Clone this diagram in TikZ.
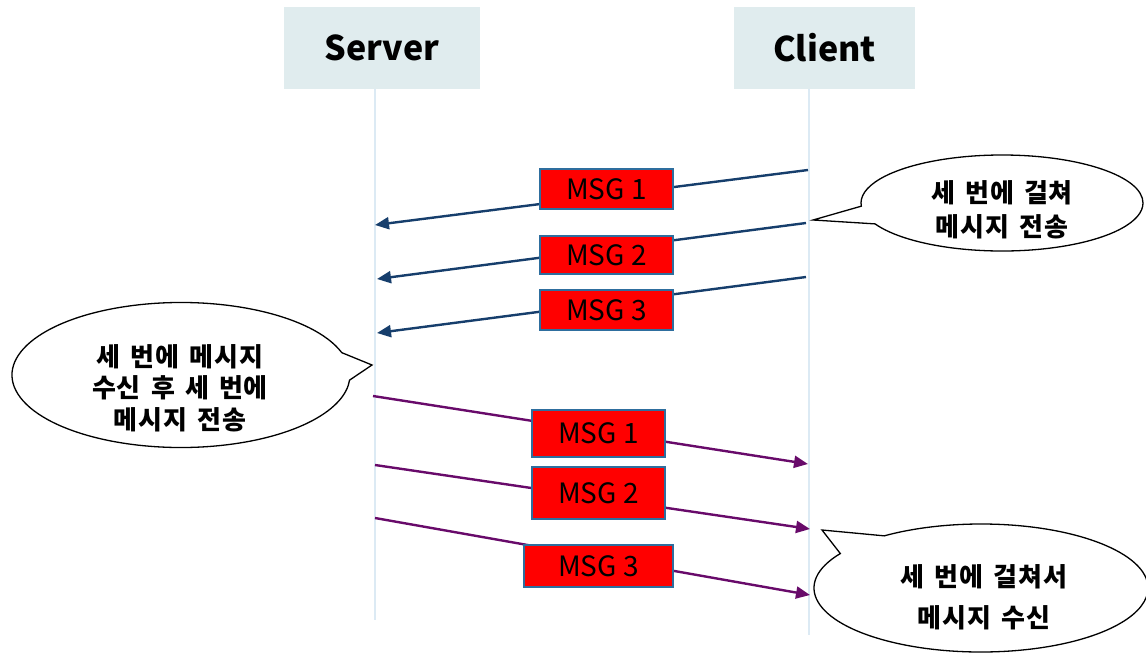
\documentclass[tikz,border=0pt]{standalone}
\usepackage{fontspec}
\setmainfont{Noto Sans CJK KR}
\newfontfamily\notefont{Noto Sans CJK KR}[LetterSpace=3,WordSpace=1.5]
\usetikzlibrary{arrows.meta,shapes.callouts}
\definecolor{headfill}{HTML}{E0ECEE}
\definecolor{lifeline}{HTML}{DCEAF4}
\definecolor{navy}{HTML}{163E6C}
\definecolor{plum}{HTML}{680A6A}
\definecolor{boxedge}{HTML}{2E6E9E}
\tikzset{
  header/.style={fill=headfill, draw=none, minimum width=#1, minimum height=82pt,
    inner sep=0pt, font=\fontsize{34}{40}\selectfont\bfseries},
  life/.style={draw=lifeline, line width=1.3pt},
  msgbox/.style={fill=red, draw=boxedge, line width=1.2pt, minimum height=40pt,
    minimum width=#1, inner sep=0pt, font=\fontsize{28}{32}\selectfont},
  tocli/.style={plum, line width=2.4pt, -{Triangle[length=14pt,width=12pt]}},
  toser/.style={navy, line width=2.4pt, -{Triangle[length=14pt,width=12pt]}},
  bubble/.style={ellipse callout, draw=black, line width=1.3pt, fill=white,
    inner sep=0pt, callout pointer arc=22},
  notetext/.style={inner sep=0pt, align=center,
    font=\notefont\fontsize{26}{#1}\selectfont\bfseries},
}
\begin{document}
\begin{tikzpicture}[x=1pt,y=-1pt]
\useasboundingbox (0,0) rectangle (1146,653);

% headers
\node[header=196pt] (srv) at (382,48) {Server};
\node[header=181pt] (cli) at (824.5,48) {Client};

% lifelines
\coordinate (srvend) at (375,620);
\coordinate (cliend) at (809,635);
\draw[life] (375,89) coordinate (srvtop) -- (srvend);
\draw[life] (809,89) coordinate (clitop) -- (cliend);

% client -> server
\coordinate (a1s) at (808,170); \coordinate (a1e) at (375,225);
\coordinate (a2s) at (806,223); \coordinate (a2e) at (377,279);
\coordinate (a3s) at (806,277); \coordinate (a3e) at (377,333);
\draw[toser] (a1s) -- (a1e);
\draw[toser] (a2s) -- (a2e);
\draw[toser] (a3s) -- (a3e);
\node[msgbox=133pt] (m1) at (606.5,189) {MSG 1};
\node[msgbox=133pt, minimum height=38pt] (m2) at (606.5,255) {MSG 2};
\node[msgbox=133pt] (m3) at (606.5,310) {MSG 3};

% server -> client
\coordinate (b1s) at (373,396); \coordinate (b1e) at (808,464);
\coordinate (b2s) at (375,465); \coordinate (b2e) at (810,529);
\coordinate (b3s) at (375,518); \coordinate (b3e) at (810,595);
\draw[tocli] (b1s) -- (b1e);
\draw[tocli] (b2s) -- (b2e);
\draw[tocli] (b3s) -- (b3e);
\node[msgbox=133pt, minimum height=47pt] (n1) at (598.5,433.5) {MSG 1};
\node[msgbox=133pt, minimum height=52pt] (n2) at (598.5,493) {MSG 2};
\node[msgbox=149pt, minimum height=42pt] (n3) at (598.5,566) {MSG 3};

% notes
\node[bubble, minimum width=282pt, minimum height=96pt,
  callout absolute pointer={(813,220)}] (note1) at (1002,203) {};
\node[notetext=34] (note1txt) at (1002,210) {세 번에 걸쳐\\메시지 전송};

\node[bubble, minimum width=338pt, minimum height=145pt,
  callout absolute pointer={(372,365)}] (note2) at (181,375) {};
\node[notetext=31.5] (note2txt) at (180,388) {세 번에 메시지\\수신 후 세 번에\\메시지 전송};

\node[bubble, minimum width=334pt, minimum height=128pt,
  callout absolute pointer={(822,530)}] (note3) at (981,588) {};
\node[notetext=41] (note3txt) at (984,597) {세 번에 걸쳐서\\메시지 수신};
\end{tikzpicture}
\end{document}
